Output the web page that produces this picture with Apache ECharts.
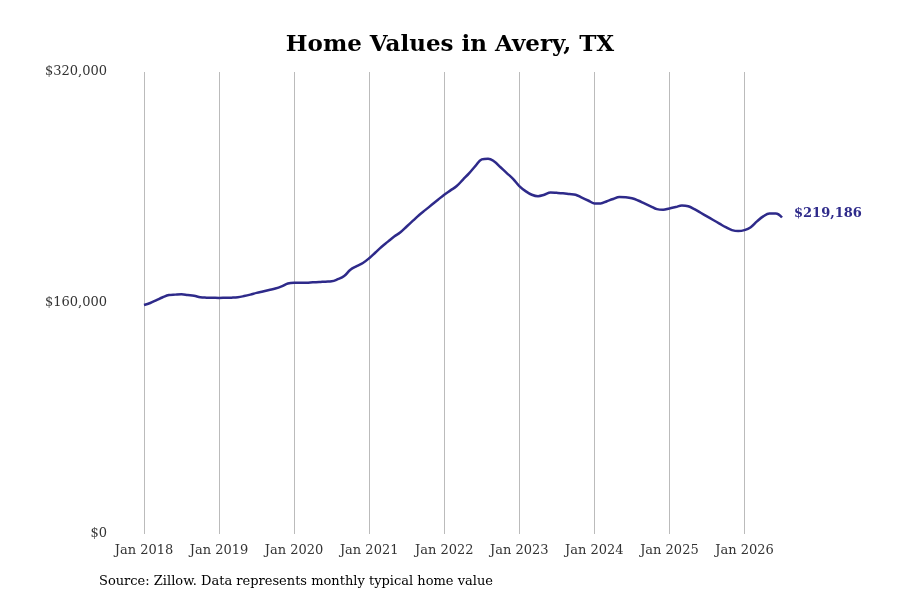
<!DOCTYPE html>
<html><head><meta charset="utf-8">
<script src="https://cdn.jsdelivr.net/npm/echarts@6/dist/echarts.min.js"></script>
<style>html,body{margin:0;padding:0;background:#fff}#c{width:900px;height:600px}</style>
</head><body><div id="c"></div>
<script>
// Monthly typical home value, Jan 2018 (index 0) to Jul 2026 (index 102)
const values = [
158600,160000,162000,164000,165500,165800,166000,165500,165000,164000,163700,163600,
163500,163600,163700,164000,164800,165800,167000,168000,169000,170000,171500,173500,
174000,174000,174000,174300,174500,174800,175000,176500,178700,183000,185500,187700,
191000,195000,199000,202500,206000,209000,213000,217000,221000,224500,228000,231500,
235000,238000,241000,245500,250000,255000,259500,260000,258000,254000,250000,246000,
241000,237500,235000,234000,235000,236500,236300,236000,235500,235000,233000,231000,
229000,229000,230500,232000,233400,233200,232500,231000,229000,227000,225000,224600,
225500,226500,227500,227000,225000,222500,220000,217500,215000,212500,210500,209800,
210500,212500,216500,220000,222000,222000,219186
];
const startYear = 2018;
const months = values.map((v,i)=>'Jan '+(startYear+Math.floor(i/12)));
const endLabel = "$219,186";
const yTicks = [0,160000,320000];
const serif = '"DejaVu Serif","Liberation Serif",serif';
const chart = echarts.init(document.getElementById('c'));
chart.setOption({
  animation:false,
  title:{text:'Home Values in Avery, TX',left:'center',top:29,textStyle:{fontFamily:serif,fontSize:23,fontWeight:'bold',color:'#000'}},
  grid:{left:144,right:118,top:72,bottom:66},
  xAxis:{type:'category',data:months,boundaryGap:false,
    axisLine:{show:false},axisTick:{show:false},
    splitLine:{show:true,interval:(i)=>i%12===0,lineStyle:{color:'#bbb',width:1}},
    axisLabel:{fontFamily:serif,fontSize:13,color:'#333',margin:10,interval:(i)=>i%12===0}},
  yAxis:{type:'value',min:yTicks[0],max:yTicks[2],interval:160000,
    axisLine:{show:false},axisTick:{show:false},splitLine:{show:false},
    axisLabel:{fontFamily:serif,fontSize:13,color:'#333',margin:37,
      formatter:v=>'$'+v.toLocaleString('en-US')}},
  series:[{type:'line',data:values,smooth:0.4,showSymbol:false,
    lineStyle:{color:'#2e2a8a',width:2.5},
    endLabel:{show:true,formatter:endLabel,distance:12,fontFamily:serif,fontSize:13,fontWeight:'bold',color:'#2e2a8a',offset:[0,-4]}}],
  graphic:[{type:'text',left:99,top:575,style:{text:'Source: Zillow. Data represents monthly typical home value',font:'13px '+serif,fill:'#000'}}]
});
</script></body></html>
